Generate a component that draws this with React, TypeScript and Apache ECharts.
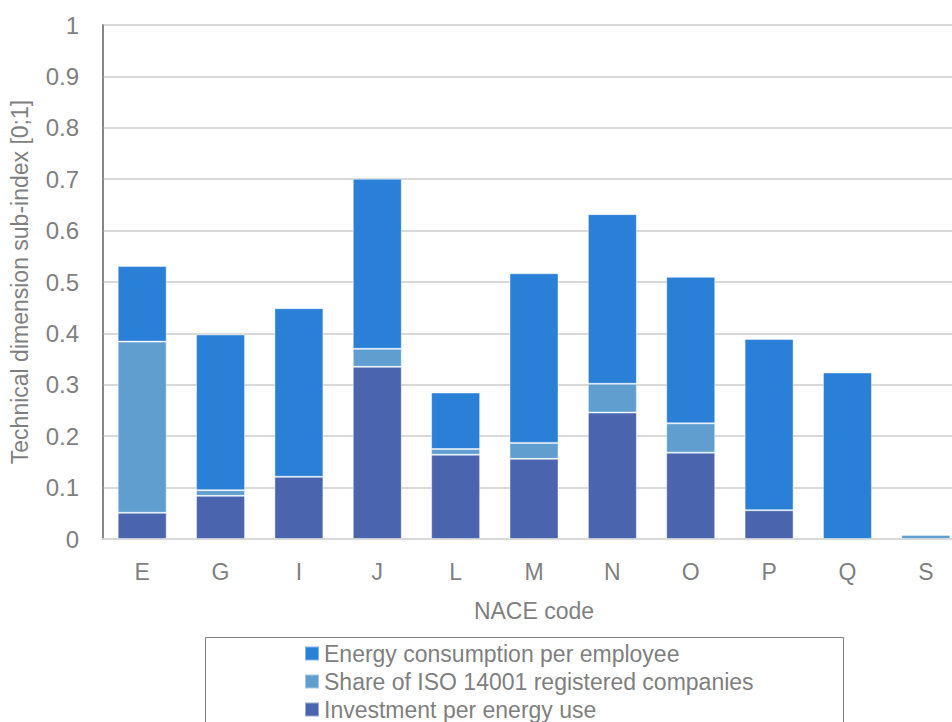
import React, { useEffect, useRef } from "react";
import * as echarts from "echarts";

const categories = ["E", "G", "I", "J", "L", "M", "N", "O", "P", "Q", "S"];

// Stacked segments, bottom to top
const investmentPerEnergyUse = [0.051, 0.084, 0.121, 0.335, 0.164, 0.156, 0.246, 0.168, 0.056, 0, 0];
const iso14001Share = [0.333, 0.011, 0, 0.035, 0.011, 0.031, 0.056, 0.057, 0, 0, 0.008];
const energyPerEmployee = [0.147, 0.303, 0.328, 0.331, 0.11, 0.33, 0.33, 0.285, 0.333, 0.324, 0];

const seriesNames = [
  "Energy consumption per employee",
  "Share of ISO 14001 registered companies",
  "Investment per energy use",
];

const FONT = "'Liberation Sans', Arial, sans-serif";
const TEXT = "#7f7f7f";

const toBars = (arr: number[]) => arr.map((v) => (v === 0 ? null : v));

export default function App() {
  const ref = useRef<HTMLDivElement>(null);

  useEffect(() => {
    if (!ref.current) return;
    const chart = echarts.init(ref.current, null, { renderer: "svg" });

    const barStyle = (color: string) => ({
      color,
      borderColor: "rgba(255,255,255,0.45)",
      borderWidth: 1,
    });

    chart.setOption({
      animation: false,
      textStyle: { fontFamily: FONT },
      grid: {
        left: 103,
        top: 25,
        right: -13,
        bottom: 183,
        outerBoundsMode: "none",
        containLabel: false,
        show: true,
        borderColor: "#7f7f7f",
        borderWidth: 1.5,
      },
      xAxis: {
        type: "category",
        data: categories,
        name: "NACE code",
        nameLocation: "middle",
        nameGap: 60,
        nameTextStyle: { color: TEXT, fontSize: 23, fontFamily: FONT },
        axisLine: { lineStyle: { color: "#d9d9d9", width: 2 } },
        axisTick: { show: false },
        axisLabel: { color: TEXT, fontSize: 23, margin: 21, fontFamily: FONT },
      },
      yAxis: {
        type: "value",
        min: 0,
        max: 1,
        interval: 0.1,
        name: "Technical dimension sub-index [0;1]",
        nameLocation: "middle",
        nameGap: 72,
        nameTextStyle: { color: TEXT, fontSize: 23, fontFamily: FONT },
        axisLine: { show: true, lineStyle: { color: "#7f7f7f", width: 1.5 } },
        axisTick: { show: false },
        axisLabel: { color: TEXT, fontSize: 24, margin: 24, fontFamily: FONT },
        splitLine: { lineStyle: { color: "#d9d9d9", width: 2 } },
      },
      legend: {
        orient: "vertical",
        left: 304,
        top: 642,
        padding: 0,
        itemGap: 5,
        itemWidth: 14,
        itemHeight: 14,
        icon: "rect",
        data: seriesNames,
        textStyle: { color: TEXT, fontSize: 23, lineHeight: 23, fontFamily: FONT },
      },
      graphic: [
        {
          type: "rect",
          shape: { x: 205.5, y: 637.5, width: 638, height: 120 },
          style: { fill: "none", stroke: "#7f7f7f", lineWidth: 1 },
          silent: true,
        },
      ],
      series: [
        {
          name: seriesNames[2],
          type: "bar",
          stack: "total",
          barWidth: 49,
          data: toBars(investmentPerEnergyUse),
          itemStyle: barStyle("#4a65ae"),
        },
        {
          name: seriesNames[1],
          type: "bar",
          stack: "total",
          barWidth: 49,
          data: toBars(iso14001Share),
          itemStyle: barStyle("#619ed0"),
        },
        {
          name: seriesNames[0],
          type: "bar",
          stack: "total",
          barWidth: 49,
          data: toBars(energyPerEmployee),
          itemStyle: barStyle("#2a7fd7"),
        },
      ],
    });

    return () => chart.dispose();
  }, []);

  return <div ref={ref} style={{ width: 952, height: 722, position: "absolute", left: 0, top: 0 }} />;
}
